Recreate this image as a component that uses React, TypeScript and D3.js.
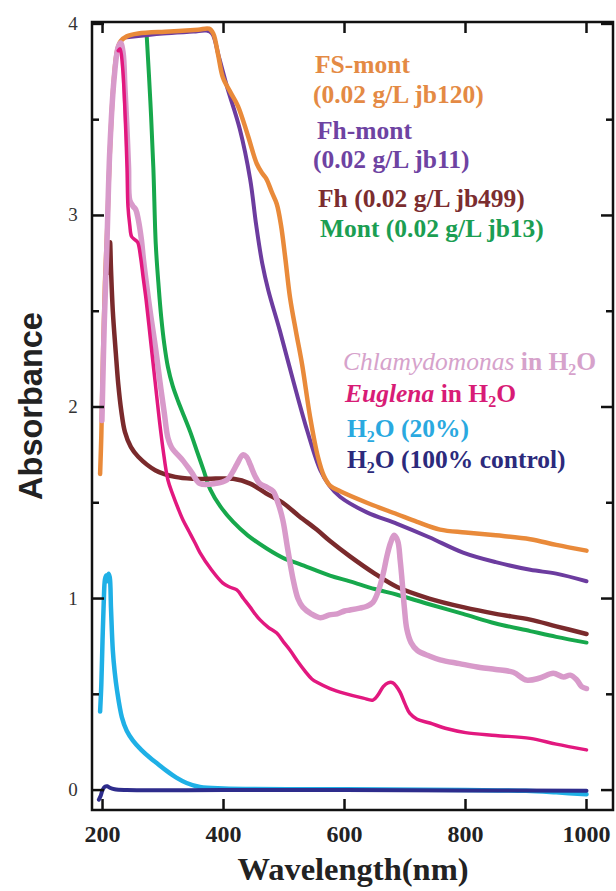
import React from "react";
import * as d3 from "d3";

type Pt = [number, number];

// Absorbance spectra, [wavelength nm, absorbance]
const fsMont: Pt[] = [
  [196, 1.65], [198, 1.85], [201, 2.3], [204, 2.65], [208, 2.95], [212, 3.32], [218, 3.68], [224, 3.86],
  [230, 3.91], [240, 3.935], [259, 3.95], [311, 3.96], [358, 3.97], [376, 3.975], [383, 3.95], [391, 3.84],
  [399, 3.72], [412, 3.64], [424, 3.57], [440, 3.42], [455, 3.27], [464, 3.22], [471, 3.19], [480, 3.12],
  [488, 3.06], [495, 2.95], [502, 2.78], [510, 2.57], [520, 2.39], [530, 2.22], [543, 1.95], [556, 1.74],
  [566, 1.64], [576, 1.59], [593, 1.56], [637, 1.5], [687, 1.44], [720, 1.4], [758, 1.36], [800, 1.345],
  [850, 1.33], [907, 1.31], [950, 1.28], [1000, 1.25],
];

const fhMont: Pt[] = [
  [240, 3.93], [300, 3.95], [350, 3.96], [372, 3.965], [381, 3.95], [393, 3.82], [406, 3.67], [427, 3.45],
  [444, 3.19], [454, 2.95], [464, 2.75], [474, 2.61], [493, 2.4], [515, 2.14], [538, 1.88], [560, 1.67],
  [575, 1.59], [593, 1.53], [637, 1.45], [687, 1.39], [740, 1.32], [796, 1.24], [850, 1.19], [907, 1.15],
  [950, 1.13], [1000, 1.09],
];

const fh: Pt[] = [
  [211, 2.7], [212.5, 2.86], [214, 2.72], [217, 2.5], [222, 2.28], [226, 2.12], [231, 1.98],
  [237, 1.87], [247, 1.79], [259, 1.74], [287, 1.67], [320, 1.635], [350, 1.625], [374, 1.625], [416, 1.625],
  [444, 1.6], [470, 1.55], [498, 1.5], [525, 1.43], [554, 1.36], [576, 1.3], [609, 1.22], [650, 1.13],
  [687, 1.06], [740, 1.0], [796, 0.955], [850, 0.92], [907, 0.89], [950, 0.855], [1000, 0.815],
];

const mont: Pt[] = [
  [273, 3.94], [279, 3.6], [284, 3.25], [288, 2.85], [293, 2.62], [297, 2.47], [302, 2.33], [308, 2.21],
  [316, 2.11], [325, 2.03], [335, 1.95], [345, 1.87], [356, 1.77], [367, 1.67], [378, 1.57], [395, 1.48],
  [416, 1.4], [440, 1.33], [472, 1.26], [500, 1.21], [526, 1.18], [576, 1.12], [609, 1.09], [650, 1.05],
  [687, 1.02], [740, 0.97], [796, 0.92], [850, 0.87], [907, 0.83], [950, 0.8], [1000, 0.77],
];

const chlamydomonas: Pt[] = [
  [199, 1.93], [201, 2.2], [203, 2.45], [207, 2.82], [212, 3.34], [219, 3.71], [226, 3.88], [230, 3.9],
  [234, 3.85], [237, 3.67], [240, 3.48], [243, 3.25], [245, 3.08], [250, 3.05], [255, 3.03], [259, 2.98],
  [264, 2.88], [268, 2.76], [274, 2.61], [280, 2.47], [288, 2.3], [295, 2.13], [302, 1.97], [308, 1.84],
  [314, 1.79], [320, 1.765], [333, 1.72], [347, 1.66], [361, 1.6], [386, 1.6], [406, 1.62], [415, 1.66],
  [422, 1.7], [432, 1.75], [438, 1.74], [444, 1.7], [452, 1.64], [460, 1.6], [472, 1.58], [482, 1.56],
  [490, 1.5], [498, 1.41], [506, 1.26], [515, 1.1], [523, 1.0], [531, 0.955], [545, 0.92], [560, 0.9],
  [575, 0.915], [588, 0.92], [600, 0.935], [609, 0.94], [625, 0.95], [637, 0.96], [647, 0.98], [656, 1.04],
  [664, 1.13], [670, 1.22], [676, 1.29], [682, 1.33], [688, 1.3], [692, 1.2], [695, 1.1], [699, 0.95],
  [703, 0.84], [710, 0.77], [720, 0.73], [740, 0.7], [758, 0.68], [790, 0.66], [824, 0.64], [850, 0.63],
  [879, 0.615], [901, 0.574], [923, 0.585], [945, 0.61], [962, 0.59], [973, 0.6], [984, 0.575], [992, 0.54],
  [1000, 0.53],
];

const euglena: Pt[] = [
  [226, 3.86], [229, 3.87], [233, 3.78], [237, 3.55], [240.5, 3.25], [242, 3.05],
  [245, 2.95], [248, 2.89], [253, 2.875], [258, 2.86], [263, 2.78], [267, 2.68], [272, 2.56], [280, 2.33],
  [287, 2.13], [294, 1.93], [300, 1.78], [308, 1.62], [316.5, 1.54], [325, 1.47], [333, 1.41], [343, 1.35],
  [353, 1.29], [361, 1.24], [380, 1.15], [399, 1.08], [410, 1.06], [422, 1.045], [433, 1.0], [444, 0.955],
  [452, 0.92], [460, 0.89], [474, 0.85], [488, 0.82], [500, 0.77], [510, 0.73], [523, 0.67], [535, 0.62],
  [546, 0.58], [556, 0.56], [576, 0.53], [600, 0.505], [631, 0.48], [647, 0.47], [656, 0.5], [664, 0.54],
  [672, 0.56], [680, 0.56], [686, 0.54], [692, 0.51], [700, 0.45], [708, 0.4], [720, 0.37], [741, 0.35],
  [770, 0.32], [800, 0.3], [850, 0.285], [907, 0.27], [950, 0.24], [1000, 0.21],
];

const water20: Pt[] = [
  [196, 0.41], [198, 0.55], [200, 0.78], [202, 0.98], [204, 1.1], [206, 1.12], [208, 1.09], [210, 1.13],
  [212, 1.11], [214, 0.95], [217, 0.73], [220, 0.62], [224, 0.52], [232, 0.38], [240, 0.31], [250, 0.26],
  [264, 0.21], [278, 0.17], [292, 0.135], [306, 0.1], [322, 0.065], [339, 0.037], [361, 0.016], [400, 0.008],
  [600, 0.004], [800, 0.0], [900, -0.004], [950, -0.012], [1000, -0.022],
];

const water100: Pt[] = [
  [194, -0.05], [197, -0.03], [200, 0.0], [204, 0.018], [208, 0.02], [212, 0.012], [220, 0.004], [240, 0.0],
  [400, 0.0], [600, 0.0], [800, -0.002], [1000, -0.004],
];

const xTicks = [200, 400, 600, 800, 1000];
const yTicks = [0, 1, 2, 3, 4];
const yMinorTicks = [0.5, 1.5, 2.5, 3.5];

const W = 616;
const H = 891;
const left = 92;
const right = 613;
const top = 22;
const bottom = 810;

const x = d3.scaleLinear().domain([182.6, 1043.8]).range([left, right]);
const y = d3.scaleLinear().domain([-0.104, 4.01]).range([bottom, top]);

const line = d3
  .line<Pt>()
  .x((d) => x(d[0]))
  .y((d) => y(d[1]))
  .curve(d3.curveCatmullRom.alpha(0.5));

const series = [
  { key: "water20", data: water20, color: "#1fb0e6", width: 4.5 },
  { key: "water100", data: water100, color: "#2e2c8c", width: 4 },
  { key: "mont", data: mont, color: "#17a84c", width: 4 },
  { key: "fh", data: fh, color: "#7a2a2c", width: 4.5 },
  { key: "fhMont", data: fhMont, color: "#6c3c9f", width: 4 },
  { key: "fsMont", data: fsMont, color: "#e98a3a", width: 4.5 },
  { key: "chlamydomonas", data: chlamydomonas, color: "#d89aca", width: 5.5 },
  { key: "euglena", data: euglena, color: "#e2187f", width: 3.5 },
];

const serif = "'Liberation Serif', 'Times New Roman', serif";
const sans = "'Liberation Sans', Arial, sans-serif";

const Sub = ({ children }: { children: React.ReactNode }) => (
  <tspan fontSize="16" dy="5">{children}</tspan>
);

export default function App() {
  return (
    <div style={{ position: "absolute", left: 0, top: 0, width: W, height: H, background: "#fff" }}>
      <svg width={W} height={H} viewBox={`0 0 ${W} ${H}`} style={{ display: "block" }}>
        <rect x={0} y={0} width={W} height={H} fill="#fff" />

        {/* spectra */}
        <g fill="none" strokeLinejoin="round" strokeLinecap="round">
          {series.map((s) => (
            <path key={s.key} d={line(s.data) ?? ""} stroke={s.color} strokeWidth={s.width} />
          ))}
        </g>

        {/* frame */}
        <rect x={left} y={top} width={right - left} height={bottom - top} fill="none" stroke="#111" strokeWidth={2.5} />

        {/* ticks on all four sides, pointing inward */}
        <g stroke="#111" strokeWidth={2.5}>
          {yTicks.map((t) => (
            <g key={`y${t}`}>
              <line x1={left} x2={left + 12} y1={y(t)} y2={y(t)} />
              <line x1={right} x2={right - 12} y1={y(t)} y2={y(t)} />
            </g>
          ))}
          {yMinorTicks.map((t) => (
            <g key={`ym${t}`}>
              <line x1={left} x2={left + 7} y1={y(t)} y2={y(t)} />
              <line x1={right} x2={right - 7} y1={y(t)} y2={y(t)} />
            </g>
          ))}
          {xTicks.map((t) => (
            <g key={`x${t}`}>
              <line x1={x(t)} x2={x(t)} y1={bottom} y2={bottom - 11} />
              <line x1={x(t)} x2={x(t)} y1={top} y2={top + 11} />
            </g>
          ))}
        </g>

        {/* tick labels */}
        <g fontFamily={serif} fontSize={19} fill="#333" textAnchor="middle">
          {yTicks.map((t) => (
            <text key={`yl${t}`} x={73} y={y(t) + 6}>{t}</text>
          ))}
        </g>
        <g fontFamily={serif} fontSize={24} fontWeight="bold" fill="#222" textAnchor="middle">
          {xTicks.map((t) => (
            <text key={`xl${t}`} x={x(t)} y={842}>{t}</text>
          ))}
        </g>

        {/* axis titles */}
        <text x={353} y={880} fontFamily={serif} fontSize={32.5} fontWeight="bold" fill="#222" textAnchor="middle">
          Wavelength(nm)
        </text>
        <text
          transform="translate(42,406) rotate(-90)"
          fontFamily={sans}
          fontSize={32.5}
          fontWeight="bold"
          fill="#222"
          textAnchor="middle"
        >
          Absorbance
        </text>

        {/* legend */}
        <g fontFamily={serif} fontSize={25.5} fontWeight="bold">
          <text x={315} y={73} fill="#e48a44">FS-mont</text>
          <text x={313} y={103} fill="#e48a44">(0.02 g/L jb120)</text>
          <text x={317} y={139} fill="#6e43a2">Fh-mont</text>
          <text x={313} y={168} fill="#6e43a2">(0.02 g/L jb11)</text>
          <text x={318} y={207} fill="#7b2d2f">Fh (0.02 g/L jb499)</text>
          <text x={320} y={237} fill="#1b9e52">Mont (0.02 g/L jb13)</text>

          <text x={343} y={370} fill="#d6a2cb">
            <tspan fontStyle="italic" fontWeight="normal">Chlamydomonas</tspan>
            <tspan> in H</tspan>
            <Sub>2</Sub>
            <tspan dy="-5">O</tspan>
          </text>
          <text x={345} y={402} fill="#d81c76">
            <tspan fontStyle="italic">Euglena</tspan>
            <tspan> in H</tspan>
            <Sub>2</Sub>
            <tspan dy="-5">O</tspan>
          </text>
          <text x={347} y={437} fill="#2aa9e0">
            <tspan>H</tspan>
            <Sub>2</Sub>
            <tspan dy="-5">O (20%)</tspan>
          </text>
          <text x={347} y={468} fill="#2c2a7c">
            <tspan>H</tspan>
            <Sub>2</Sub>
            <tspan dy="-5">O (100% control)</tspan>
          </text>
        </g>
      </svg>
    </div>
  );
}
